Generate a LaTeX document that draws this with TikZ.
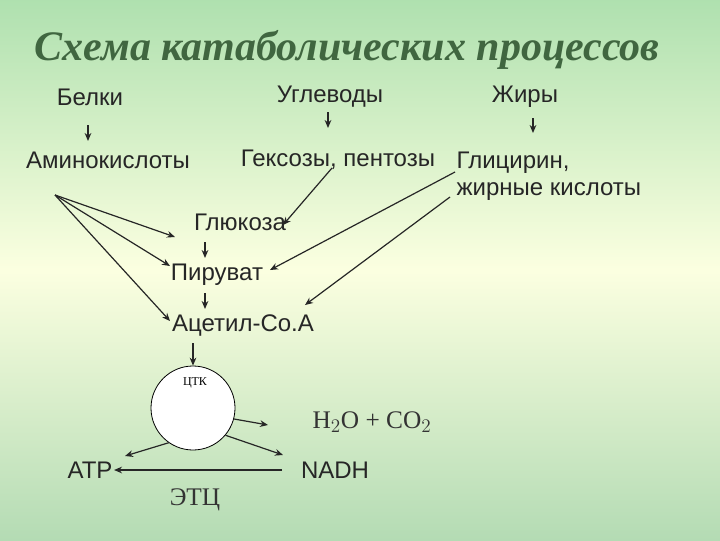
\documentclass[tikz,border=0pt]{standalone}
\usepackage{fontspec}
\setmainfont{Liberation Sans}
\newfontfamily\serifrm{Liberation Serif}
\usetikzlibrary{arrows.meta}
\begin{document}
\begin{tikzpicture}[x=0.75pt,y=-0.75pt,
  lbl/.style={font=\fontsize{18}{20}\selectfont,text=black!85,inner sep=1pt},
  sr/.style={font=\serifrm\fontsize{19}{21}\selectfont,text=black!80,inner sep=1pt},
  arr/.style={-{Stealth[length=6pt,width=5pt]},line width=0.9pt,black!85}]
\shade[top color=green!22!white!88!black, bottom color=green!18!white!86!black,middle color=green!12!yellow!12!white] (0,0) rectangle (720,540);
\useasboundingbox (0,0) rectangle (720,540);
\node[font=\serifrm\bfseries\itshape\fontsize{31.5}{34}\selectfont,text=green!20!black!75,anchor=west] (title) at (30,50) {Схема катаболических процессов};
\node[lbl] (belki) at (90,97) {Белки};
\node[lbl] (ugl) at (330,97) {Углеводы};
\node[lbl] (zhir) at (525,97) {Жиры};
\node[lbl] (amino) at (108,160) {Аминокислоты};
\node[lbl] (hex) at (338,160) {Гексозы, пентозы};
\node[lbl,anchor=west,align=left] (glic) at (455,176) {Глицирин,\\жирные кислоты};
\node[lbl] (glu) at (240,222) {Глюкоза};
\node[lbl] (pir) at (217,275) {Пируват};
\node[lbl] (acet) at (243,326) {Ацетил-Со.А};
\node[draw,circle,fill=white,minimum size=84pt*0.75,line width=0.6pt] (ctk) at (193,408) {};
\node[font=\serifrm\fontsize{9}{10}\selectfont] (ctkl) at (195,383) {ЦТК};
\node[sr] (h2o) at (372,422) {H$_2$O + CO$_2$};
\node[lbl] (atp) at (90,470) {ATP};
\node[lbl] (nadh) at (335,470) {NADH};
\node[sr] (etc) at (195,500) {ЭТЦ};
\coordinate (a1) at (88,125); \coordinate (a1e) at (88,141);
\coordinate (a2) at (328,112); \coordinate (a2e) at (328,128);
\coordinate (a3) at (533,118); \coordinate (a3e) at (533,133);
\draw[arr] (a1) -- (a1e);
\draw[arr] (a2) -- (a2e);
\draw[arr] (a3) -- (a3e);
\coordinate (ao) at (55,195);
\draw[arr] (ao) -- (175,237);
\draw[arr] (ao) -- (170,266);
\draw[arr] (ao) -- (170,321);
\draw[arr] (332,168) -- (283,225);
\draw[arr] (455,172) -- (270,270);
\draw[arr] (450,197) -- (305,305);
\draw[arr] (205,242) -- (205,258);
\draw[arr] (205,293) -- (205,309);
\draw[arr] (193,343) -- (ctk.north);
\draw[arr] (ctk.-15) -- (268,425);
\draw[arr] (ctk.-40) -- (283,455);
\draw[arr] (ctk.-125) -- (125,456);
\draw[arr] (282,470) -- (atp.east);
\end{tikzpicture}
\end{document}
